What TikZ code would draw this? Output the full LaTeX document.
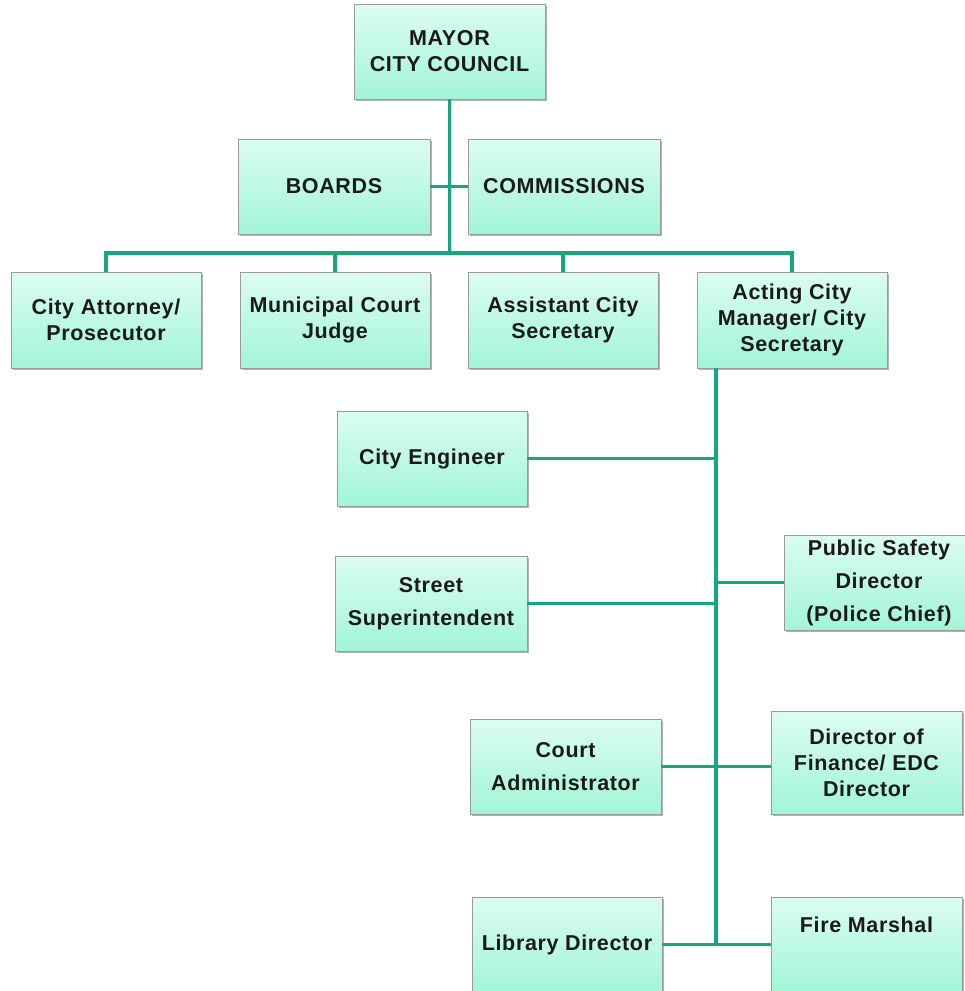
\documentclass[tikz,border=0pt]{standalone}
\usepackage{fontspec}
\setmainfont[LetterSpace=3]{Liberation Sans}
\usetikzlibrary{shadows}
\definecolor{boxtop}{HTML}{DCFDF0}
\definecolor{boxbot}{HTML}{A2F5D6}
\definecolor{boxline}{HTML}{9A9A9A}
\definecolor{conncol}{HTML}{14A87C}
\definecolor{txt}{HTML}{1A1A1A}
\tikzset{
  box/.style={draw=boxline, line width=0.9pt, top color=boxtop, bottom color=boxbot,
    minimum width=190pt, minimum height=95pt, inner sep=0pt, align=center,
    text=txt, font=\fontsize{21.5}{26}\selectfont\bfseries,
    drop shadow={shadow xshift=2pt, shadow yshift=-2pt, opacity=0.3, fill=black}},
  wide/.style={font=\fontsize{21.5}{33}\selectfont\bfseries},
  conn/.style={draw=conncol, line width=3.2pt},
  lbl/.style={text=txt, font=\fontsize{21.5}{26}\selectfont\bfseries, inner sep=0pt}
}
\begin{document}
\begin{tikzpicture}[x=1pt,y=-1pt]
\useasboundingbox (0,0) rectangle (965,991);
\clip (0,0) rectangle (965,991);
\coordinate (bus) at (449.5,253);
\coordinate (trunkx) at (716,0);
\node[box, minimum width=191pt] (mayor) at (449.5,51.5) {MAYOR\\CITY COUNCIL};
\node[box, minimum width=192pt] (boards) at (334,186.5) {BOARDS};
\node[box, minimum width=192pt] (comm) at (564,186.5) {COMMISSIONS};
\node[box, minimum height=96pt] (atty) at (106,320) {City Attorney/\\Prosecutor};
\node[box, minimum height=96pt] (judge) at (335,320) {Municipal Court\\Judge};
\node[box, minimum height=96pt] (asst) at (563,320) {Assistant City\\Secretary};
\node[box, minimum height=96pt] (acting) at (792,320) {Acting City\\Manager/ City\\Secretary};
\node[box] (eng) at (432,458.5) {City Engineer};
\node[box, wide] (pub) at (879,582.5) {Public Safety\\Director\\(Police Chief)};
\node[box, wide, minimum width=192pt] (street) at (431,603.5) {Street\\Superintendent};
\node[box, wide, minimum width=191pt] (court) at (565.5,766.5) {Court\\Administrator};
\node[box, minimum width=191pt, minimum height=103pt] (fin) at (866.5,762.5) {Director of\\Finance/ EDC\\Director};
\node[box] (lib) at (567,944.5) {Library Director};
\node[box, minimum width=191pt] (fm) at (866.5,944.5) {};
\node[lbl] (fmtext) at (866.5,925) {Fire Marshal};
% connectors
\draw[conn] (mayor.south) -- (bus);
\draw[conn] (boards.east) -- (comm.west);
\draw[conn] (atty.north) |- (bus) -| (acting.north);
\draw[conn] (judge.north) -- (judge.north |- bus);
\draw[conn] (asst.north) -- (asst.north |- bus);
\draw[conn] (acting.south -| trunkx) -- (lib.east -| trunkx);
\draw[conn] (eng.east) -- (eng.east -| trunkx);
\draw[conn] (pub.west) -- (pub.west -| trunkx);
\draw[conn] (street.east) -- (street.east -| trunkx);
\draw[conn] (court.east) -- (court.east -| fin.west);
\draw[conn] (lib.east) -- (fm.west);
\end{tikzpicture}
\end{document}
